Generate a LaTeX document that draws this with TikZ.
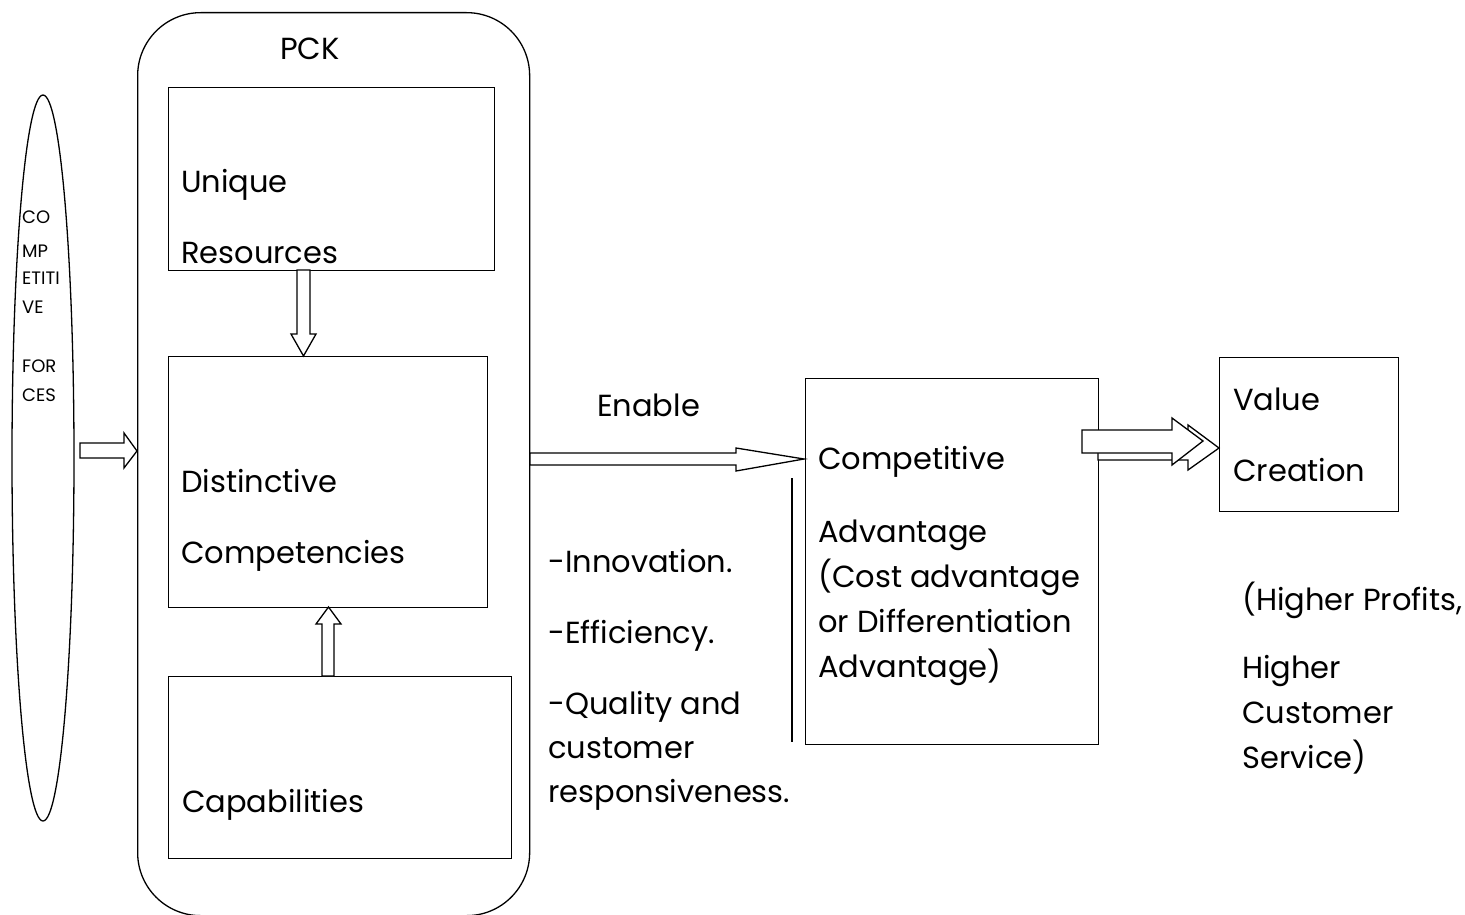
\documentclass[tikz,border=0pt]{standalone}
\usepackage{fontspec}
\setmainfont{Poppins}
\usetikzlibrary{shapes.geometric}
\tikzset{
  box/.style={draw, line width=1.3pt, rectangle, inner sep=0pt, anchor=north west},
  txt/.style={inner sep=0pt, anchor=base west, font=\fontsize{30.5}{32}\selectfont},
  small/.style={inner sep=0pt, anchor=base west, font=\fontsize{18}{19}\selectfont},
  barrow/.style={draw, line width=1.3pt, fill=white, line join=miter}
}
\begin{document}
\begin{tikzpicture}[x=1pt,y=-1pt]
\useasboundingbox (0,0) rectangle (1465,915);
% ellipse of competitive forces
\node[draw, line width=1.3pt, ellipse, inner sep=0pt, minimum width=62pt, minimum height=726pt] (forces) at (43,458) {};
\node[small] (f1) at (22,223) {CO};
\node[small] (f2) at (22,257) {MP};
\node[small] (f3) at (22,284) {ETITI};
\node[small] (f4) at (22,313) {VE};
\node[small] (f5) at (22,372) {FOR};
\node[small] (f6) at (22,401) {CES};
% PCK rounded container
\node[box, rounded corners=63pt, minimum width=392pt, minimum height=903pt] (pck) at (137,12) {};
\node[txt] (pckt) at (280,60) {PCK};
% inner boxes
\node[box, minimum width=326pt, minimum height=183pt] (ur) at (168,87) {};
\node[box, minimum width=319pt, minimum height=251pt] (dc) at (168,356) {};
\node[box, minimum width=343pt, minimum height=182pt] (cap) at (168,676) {};
\node[txt] (ur1) at (181,193) {Unique};
\node[txt] (ur2) at (181,263) {Resources};
\node[txt] (dc1) at (181,492) {Distinctive};
\node[txt] (dc2) at (181,563) {Competencies};
\node[txt] (cap1) at (182,812) {Capabilities};
% competitive advantage & value creation boxes
\node[box, minimum width=293pt, minimum height=366pt] (ca) at (805,378) {};
\node[box, minimum width=179pt, minimum height=154pt] (vc) at (1219,357) {};
\node[txt] (ca1) at (818,469) {Competitive};
\node[txt] (ca2) at (818,542) {Advantage};
\node[txt] (ca3) at (818,587) {(Cost advantage};
\node[txt] (ca4) at (818,632) {or Differentiation};
\node[txt] (ca5) at (818,677) {Advantage)};
\node[txt] (vc1) at (1233,410) {Value};
\node[txt] (vc2) at (1233,481) {Creation};
% middle texts
\node[txt] (en) at (597,416) {Enable};
\node[txt] (m1) at (548,572) {-Innovation.};
\node[txt] (m2) at (548,643) {-Efficiency.};
\node[txt] (m3) at (548,714) {-Quality and};
\node[txt] (m4) at (548,758) {customer};
\node[txt] (m5) at (548,802) {responsiveness.};
% right texts
\node[txt] (r1) at (1242,610) {(Higher Profits,};
\node[txt] (r2) at (1242,678) {Higher};
\node[txt] (r3) at (1242,723) {Customer};
\node[txt] (r4) at (1242,768) {Service)};
% vertical line left of competitive advantage box
\coordinate (vl1) at (792,478);
\coordinate (vl2) at (792,742);
\draw[line width=1.3pt] (vl1) -- (vl2);
% block arrows
% forces -> PCK
\draw[barrow] (80,443) -- (124,443) -- (124,433) -- (pck.west |- 0,451) -- (124,468) -- (124,458) -- (80,458) -- cycle;
% unique resources -> distinctive competencies
\draw[barrow] (297,270) -- (297,334) -- (291,334) -- (dc.north -| 303.5,0) -- (316,334) -- (310,334) -- (310,270) -- cycle;
% capabilities -> distinctive competencies
\draw[barrow] (322,676) -- (322,624) -- (316,624) -- (328.5,607) -- (341,624) -- (334,624) -- (334,676) -- cycle;
% enable arrow
\draw[barrow] (530,453) -- (736,453) -- (736,448) -- (804,459) -- (736,471) -- (736,465) -- (530,465) -- cycle;
% double block arrow to value creation
\draw[barrow] (1098,437) -- (1188,437) -- (1188,425) -- (1219,448) -- (1188,470) -- (1188,460) -- (1098,460) -- cycle;
\draw[barrow] (1082,430) -- (1172,430) -- (1172,418) -- (1203,441) -- (1172,465) -- (1172,453) -- (1082,453) -- cycle;
\end{tikzpicture}
\end{document}
